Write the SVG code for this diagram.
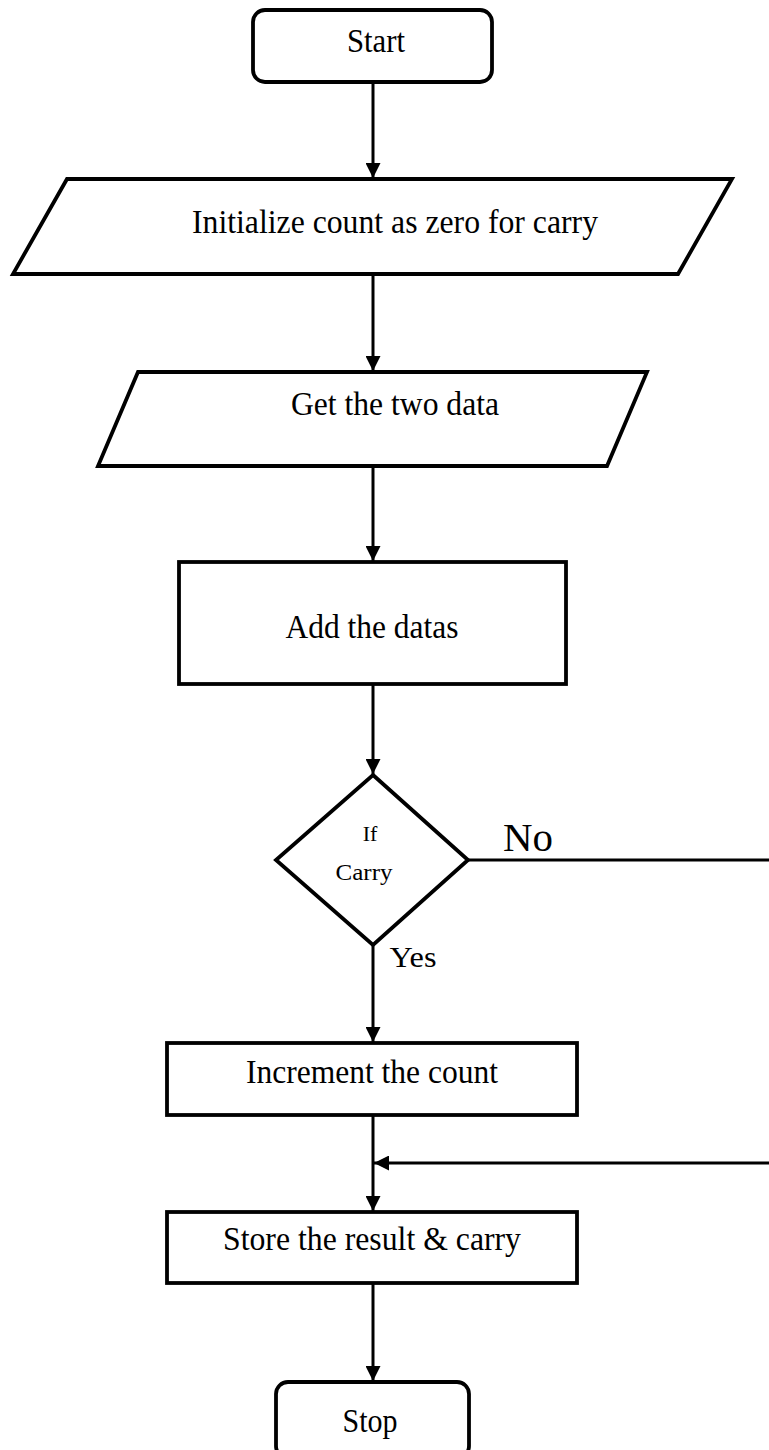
<svg xmlns="http://www.w3.org/2000/svg" width="769" height="1450" viewBox="0 0 769 1450">
<style>
.shape{fill:#fff;stroke:#000;stroke-width:3.8;stroke-linejoin:miter}
.conn{fill:none;stroke:#000;stroke-width:3}
text{font-family:"Liberation Serif","Times New Roman",serif;fill:#000;text-anchor:middle}
.t{font-size:33px}
</style>
<defs>
<marker id="arr" markerUnits="userSpaceOnUse" markerWidth="15" markerHeight="15" viewBox="0 0 15 15" refX="15" refY="7.5" orient="auto">
<path d="M0,0 L15,7.5 L0,15 z" fill="#000"/>
</marker>
</defs>
<g id="connectors">
<line class="conn" x1="373" y1="82" x2="373" y2="178" marker-end="url(#arr)"/>
<line class="conn" x1="373" y1="274" x2="373" y2="371" marker-end="url(#arr)"/>
<line class="conn" x1="373" y1="466" x2="373" y2="561" marker-end="url(#arr)"/>
<line class="conn" x1="373" y1="684" x2="373" y2="774" marker-end="url(#arr)"/>
<line class="conn" x1="373" y1="945" x2="373" y2="1042" marker-end="url(#arr)"/>
<line class="conn" x1="468" y1="860" x2="769" y2="860"/>
<line class="conn" x1="373" y1="1115" x2="373" y2="1211" marker-end="url(#arr)"/>
<line class="conn" x1="769" y1="1163" x2="374" y2="1163" marker-end="url(#arr)"/>
<line class="conn" x1="373" y1="1283" x2="373" y2="1381" marker-end="url(#arr)"/>
</g>
<g id="start">
<rect class="shape" x="253" y="10" width="239" height="72" rx="12"/>
<text class="t" x="376" y="52" textLength="58" lengthAdjust="spacingAndGlyphs">Start</text>
</g>
<g id="init">
<polygon class="shape" points="67,179 732,179 678,274 13,274"/>
<text class="t" x="395" y="233" textLength="406" lengthAdjust="spacingAndGlyphs">Initialize count as zero for carry</text>
</g>
<g id="getdata">
<polygon class="shape" points="138,372 647,372 607,466 98,466"/>
<text class="t" x="395" y="415" textLength="208" lengthAdjust="spacingAndGlyphs">Get the two data</text>
</g>
<g id="add">
<rect class="shape" x="179" y="562" width="387" height="122"/>
<text class="t" x="372" y="638" textLength="173" lengthAdjust="spacingAndGlyphs">Add the datas</text>
</g>
<g id="decision">
<polygon class="shape" points="373,775 468,860 373,945 276,860"/>
<text x="370" y="841" style="font-size:22px">If</text>
<text x="364" y="880" style="font-size:24px" textLength="57" lengthAdjust="spacingAndGlyphs">Carry</text>
</g>
<g id="labels">
<text x="528" y="851" style="font-size:40px" textLength="50" lengthAdjust="spacingAndGlyphs">No</text>
<text x="413" y="967" style="font-size:30px" textLength="47" lengthAdjust="spacingAndGlyphs">Yes</text>
</g>
<g id="increment">
<rect class="shape" x="167" y="1043" width="410" height="72"/>
<text class="t" x="372" y="1083" textLength="252" lengthAdjust="spacingAndGlyphs">Increment the count</text>
</g>
<g id="store">
<rect class="shape" x="167" y="1212" width="410" height="71"/>
<text class="t" x="372" y="1250" textLength="298" lengthAdjust="spacingAndGlyphs">Store the result &amp; carry</text>
</g>
<g id="stop">
<rect class="shape" x="276" y="1382" width="193" height="76" rx="12"/>
<text class="t" x="370" y="1432" textLength="55" lengthAdjust="spacingAndGlyphs">Stop</text>
</g>
</svg>
